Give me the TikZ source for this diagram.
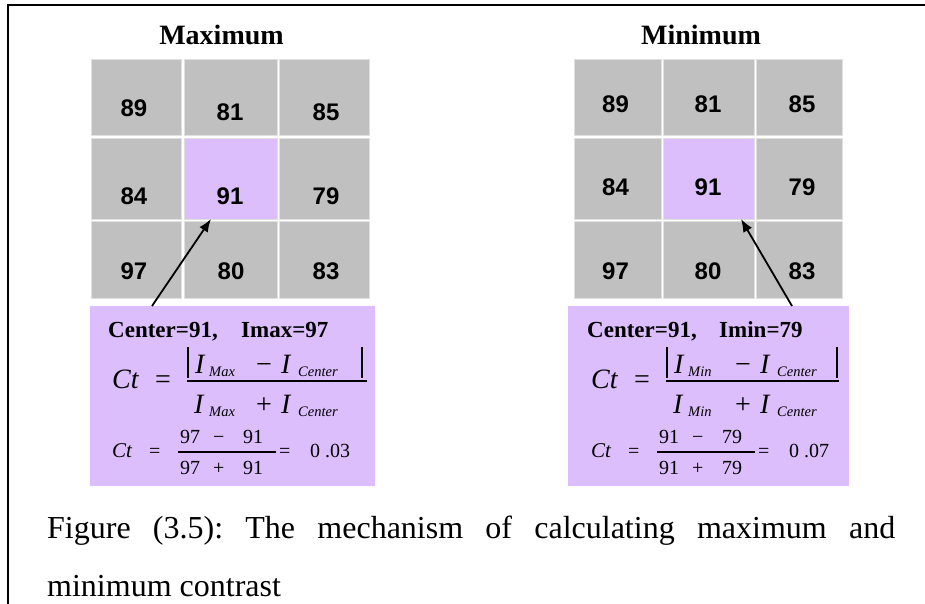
\documentclass[tikz,border=0pt]{standalone}
\usepackage{fontspec}
\setmainfont{Liberation Serif}
\newfontfamily\numfont{Liberation Sans}
\usetikzlibrary{arrows.meta}
\frenchspacing
\definecolor{cellgray}{RGB}{192,192,192}
\definecolor{lilac}{RGB}{220,190,252}
\definecolor{cellline}{RGB}{224,224,224}
\tikzset{
 cell/.style={rectangle, fill=cellgray, draw=cellline, line width=0.8pt, inner sep=0},
 ccell/.style={cell, fill=lilac},
 num/.style={inner sep=0, font=\fontsize{24}{24}\selectfont\numfont\bfseries},
 ttl/.style={anchor=base, inner sep=0, font=\fontsize{28}{28}\selectfont\bfseries},
 lbox/.style={rectangle, fill=lilac, inner sep=0},
 hdr/.style={anchor=base west, inner sep=0, font=\fontsize{23}{23}\selectfont\bfseries},
 bigi/.style={anchor=base west, inner sep=0, font=\fontsize{28}{28}\selectfont\itshape},
 bigr/.style={anchor=base west, inner sep=0, font=\fontsize{28}{28}\selectfont},
 sub/.style={anchor=base west, inner sep=0, font=\fontsize{14.5}{14.5}\selectfont\itshape},
 smi/.style={anchor=base west, inner sep=0, font=\fontsize{21}{21}\selectfont\itshape},
 smr/.style={anchor=base west, inner sep=0, font=\fontsize{20}{20}\selectfont},
 arr/.style={-{Latex[length=13pt,width=10pt]}, line width=1.8pt},
 fbar/.style={line width=1.3pt},
 frameline/.style={line width=2.5pt},
 captxt/.style={anchor=base west, inner sep=0, font=\fontsize{32}{32}\selectfont},
}
\begin{document}
\begin{tikzpicture}[x=1pt,y=-1pt]
\useasboundingbox (0,0) rectangle (925,604);
\draw[frameline] (8,604) -- (8,5) -- (925,5);

% ---------- left grid (Maximum)
\node[ttl] (tmax) at (221.5,45) {Maximum};
\node[cell, minimum width=90, minimum height=76] (a11) at (136,97) {};
\node[cell, minimum width=93, minimum height=76] (a12) at (230.5,97) {};
\node[cell, minimum width=90, minimum height=76] (a13) at (324,97) {};
\node[cell, minimum width=90, minimum height=81] (a21) at (136,178.5) {};
\node[ccell, minimum width=93, minimum height=81] (a22) at (230.5,178.5) {};
\node[cell, minimum width=90, minimum height=81] (a23) at (324,178.5) {};
\node[cell, minimum width=90, minimum height=77] (a31) at (136,259.5) {};
\node[cell, minimum width=93, minimum height=77] (a32) at (230.5,259.5) {};
\node[cell, minimum width=90, minimum height=77] (a33) at (324,259.5) {};
\node[num] (na11) at (134,108.7) {89};
\node[num] (na12) at (230,112) {81};
\node[num] (na13) at (326,112) {85};
\node[num] (na21) at (134,196.7) {84};
\node[num] (na22) at (230,196.7) {91};
\node[num] (na23) at (326,196.7) {79};
\node[num] (na31) at (134,271) {97};
\node[num] (na32) at (231,271) {80};
\node[num] (na33) at (326,271) {83};

% ---------- right grid (Minimum)
\node[ttl] (tmin) at (701,45) {Minimum};
\node[cell, minimum width=87, minimum height=76] (b11) at (617.5,97) {};
\node[cell, minimum width=91, minimum height=76] (b12) at (708.5,97) {};
\node[cell, minimum width=86, minimum height=76] (b13) at (799,97) {};
\node[cell, minimum width=87, minimum height=81] (b21) at (617.5,178.5) {};
\node[ccell, minimum width=91, minimum height=81] (b22) at (708.5,178.5) {};
\node[cell, minimum width=86, minimum height=81] (b23) at (799,178.5) {};
\node[cell, minimum width=87, minimum height=77] (b31) at (617.5,259.5) {};
\node[cell, minimum width=91, minimum height=77] (b32) at (708.5,259.5) {};
\node[cell, minimum width=86, minimum height=77] (b33) at (799,259.5) {};
\node[num] (nb11) at (615.5,103.8) {89};
\node[num] (nb12) at (708,103.8) {81};
\node[num] (nb13) at (802,103.8) {85};
\node[num] (nb21) at (615.5,187) {84};
\node[num] (nb22) at (708,187) {91};
\node[num] (nb23) at (802,187) {79};
\node[num] (nb31) at (615.5,271) {97};
\node[num] (nb32) at (708,271) {80};
\node[num] (nb33) at (802,271) {83};

% ---------- formula boxes
\node[lbox, minimum width=285, minimum height=180] (boxL) at (232.5,396) {};
\node[lbox, minimum width=281, minimum height=180] (boxR) at (708.5,396) {};

% arrows
\coordinate (tailL) at (152,306);
\coordinate (headL) at (211,219);
\coordinate (tailR) at (792,306);
\coordinate (headR) at (741,219);
\draw[arr] (tailL) -- (headL);
\draw[arr] (tailR) -- (headR);

% ---------- left formula
\node[hdr] (hL1) at (108,337) {Center=91,};
\node[hdr] (hL2) at (241,337) {Imax=97};
\node[bigi] (ctL) at (112,388) {Ct};
\node[bigr] (eqL) at (155,388) {=};
\draw[fbar] (188,347) -- (188,378);
\draw[fbar] (362,347) -- (362,378);
\node[bigi] (nL1) at (195,373) {I};
\node[sub] (nL2) at (209,376) {Max};
\node[bigr] (nL3) at (256,373) {−};
\node[bigi] (nL4) at (281,373) {I};
\node[sub] (nL5) at (298,376) {Center};
\draw[fbar] (187,381) -- (367,381);
\node[bigi] (dL1) at (194,413) {I};
\node[sub] (dL2) at (209,416) {Max};
\node[bigr] (dL3) at (256,413) {+};
\node[bigi] (dL4) at (281,413) {I};
\node[sub] (dL5) at (298,416) {Center};
\node[smi] (ctL2) at (112,457) {Ct};
\node[smr] (eqL2) at (149,457) {=};
\node[smr] (pL1) at (180,443) {97};
\node[smr] (pL2) at (213,443) {−};
\node[smr] (pL3) at (243,443) {91};
\draw[fbar] (178,452) -- (276,452);
\node[smr] (qL1) at (180,474) {97};
\node[smr] (qL2) at (213,474) {+};
\node[smr] (qL3) at (243,474) {91};
\node[smr] (eqL3) at (279,457) {=};
\node[smr] (rL1) at (310,457) {0};
\node[smr] (rL2) at (325,457) {.03};

% ---------- right formula
\begin{scope}[xshift=479pt]
\node[hdr] (hR1) at (108,337) {Center=91,};
\node[hdr] (hR2) at (240,337) {Imin=79};
\node[bigi] (ctR) at (112,388) {Ct};
\node[bigr] (eqR) at (155,388) {=};
\draw[fbar] (188,347) -- (188,378);
\draw[fbar] (358,347) -- (358,378);
\node[bigi] (nR1) at (195,373) {I};
\node[sub] (nR2) at (209,376) {Min};
\node[bigr] (nR3) at (256,373) {−};
\node[bigi] (nR4) at (281,373) {I};
\node[sub] (nR5) at (298,376) {Center};
\draw[fbar] (187,381) -- (360,381);
\node[bigi] (dR1) at (194,413) {I};
\node[sub] (dR2) at (209,416) {Min};
\node[bigr] (dR3) at (256,413) {+};
\node[bigi] (dR4) at (281,413) {I};
\node[sub] (dR5) at (298,416) {Center};
\node[smi] (ctR2) at (112,457) {Ct};
\node[smr] (eqR2) at (149,457) {=};
\node[smr] (pR1) at (180,443) {91};
\node[smr] (pR2) at (213,443) {−};
\node[smr] (pR3) at (243,443) {79};
\draw[fbar] (178,452) -- (276,452);
\node[smr] (qR1) at (180,474) {91};
\node[smr] (qR2) at (213,474) {+};
\node[smr] (qR3) at (243,474) {79};
\node[smr] (eqR3) at (279,457) {=};
\node[smr] (rR1) at (310,457) {0};
\node[smr] (rR2) at (325,457) {.07};
\end{scope}

% ---------- caption
\node[captxt] (cap1) at (47,538) {\makebox[848pt][s]{Figure (3.5): The mechanism of calculating maximum and}};
\node[captxt] (cap2) at (47,596) {minimum contrast};
\end{tikzpicture}
\end{document}
